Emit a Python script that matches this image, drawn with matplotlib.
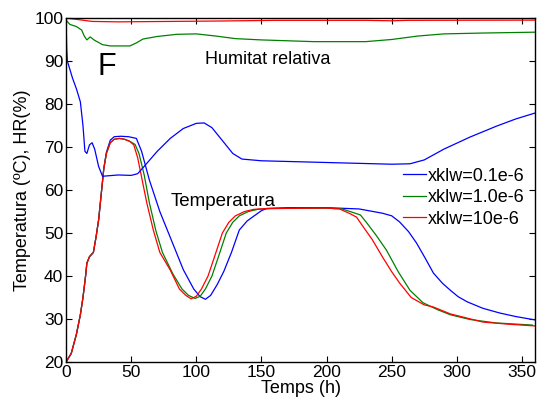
import matplotlib
matplotlib.use("Agg")
import matplotlib.pyplot as plt

# ── DADES (llegides del gràfic) ─────────────────────────────
# Temperatura
t_T_blue = [0, 4, 8, 11, 13, 15, 16, 18, 21, 23, 25, 27, 29, 31, 34, 37, 42, 48, 54,
            58, 64, 72, 80, 90, 98, 103, 107, 111, 116, 121, 127, 133, 139, 144, 150, 154,
            170, 200, 225, 243, 250, 256, 263, 269, 276, 282, 289, 295, 301, 308, 320,
            333, 345, 360]
T_blue = [20, 22, 26.5, 31, 35, 40, 43, 44.5, 45.5, 49, 53, 59, 65, 68.8, 71.6, 72.4,
          72.5, 72.4, 72, 69, 62.3, 55, 49, 41.5, 37, 35.2, 34.6, 35.5, 38, 41, 45.5,
          50.7, 52.8, 53.9, 55.2, 55.7, 55.9, 55.9, 55.6, 54.6, 54, 52.6, 50.3, 47.7,
          44, 40.7, 38.3, 36.7, 35.2, 34, 32.5, 31.4, 30.6, 29.8]

t_T_green = [0, 4, 8, 11, 13, 15, 16, 18, 21, 23, 25, 27, 29, 31, 34, 37, 41, 45, 49,
             53, 56, 60, 64, 69, 74, 82, 89, 94, 99, 103, 107, 112, 117, 123, 128, 133,
             140, 147, 157, 200, 212, 220, 226, 231, 238, 246, 255, 264, 274, 285, 295,
             310, 330, 358]
T_green = [20, 22, 26.5, 31, 35, 40, 43, 44.5, 45.5, 49, 53, 59, 65, 68.5, 71, 71.8,
           72, 71.8, 71.3, 70.6, 68.5, 63.5, 57, 50.5, 45.5, 40.5, 37, 35.5, 34.8,
           35.3, 37, 40, 44.5, 50, 52.5, 54, 55, 55.5, 55.7, 55.8, 55.6, 54.8, 54.2,
           52.3, 49.5, 46, 41, 36.7, 33.8, 32.2, 31, 29.9, 29.1, 28.6]

t_T_red = [0, 4, 8, 11, 13, 15, 16, 18, 21, 23, 25, 27, 29, 31, 34, 37, 41, 45, 49,
           52, 55, 58, 62, 67, 72, 80, 87, 92, 96, 100, 104, 109, 114, 120, 125, 130,
           137, 144, 154, 200, 210, 218, 223, 228, 235, 243, 250, 256, 265, 275, 282,
           295, 320, 340, 360]
T_red = [20, 22, 26.5, 31, 35, 40, 43, 44.5, 45.5, 49, 53, 59, 65, 68.5, 71, 71.8, 72,
         71.8, 71.3, 70.5, 67.5, 63, 57, 50.7, 45.5, 41.4, 37, 35.5, 34.7, 35.3, 37,
         40, 44.5, 50, 52.5, 54, 55, 55.5, 55.7, 55.8, 55.6, 54.5, 53.7, 51.5, 48.5,
         44.4, 41, 38.4, 35, 33.3, 32.8, 31.2, 29.3, 28.8, 28.4]

# Humitat relativa
t_HR_blue = [0, 0.5, 1, 3, 5, 8, 11, 13, 14.5, 16, 18, 20, 22, 25, 28, 32, 40, 50, 55,
             60, 70, 80, 90, 100, 106, 112, 120, 128, 135, 150, 200, 250, 264, 275, 290,
             310, 330, 345, 360]
HR_blue = [100, 93, 90, 88, 86, 83.5, 80.5, 75, 69, 68.5, 70.5, 71, 69.5, 65.5, 63.2,
           63.3, 63.5, 63.4, 63.8, 65.5, 69, 72, 74.3, 75.5, 75.6, 74.5, 71.5, 68.5,
           67.2, 66.8, 66.4, 66, 66.1, 67, 69.5, 72.3, 74.8, 76.5, 77.9]

t_HR_green = [0, 3, 8, 12, 14, 16, 18.5, 22, 28, 34, 49, 54, 59, 70, 85, 100, 115, 130,
              150, 190, 230, 250, 270, 290, 320, 360]
HR_green = [99.5, 98.5, 98, 97.2, 95.8, 94.9, 95.6, 94.8, 93.8, 93.5, 93.5, 94.2, 95.1,
            95.7, 96.2, 96.3, 95.8, 95.2, 94.9, 94.5, 94.5, 95, 95.8, 96.3, 96.5, 96.7]

t_HR_red = [0, 10, 20, 40, 80, 120, 160, 230, 250, 262, 360]
HR_red = [100, 99.6, 99.2, 99.1, 99.2, 99.3, 99.45, 99.45, 99.35, 99.45, 99.5]

labels = ["xklw=0.1e-6", "xklw=1.0e-6", "xklw=10e-6"]
colors = ["#0000ff", "#008000", "#ff0000"]
# ────────────────────────────────────────────────────────────

plt.rcParams["font.family"] = ["Liberation Sans", "DejaVu Sans"]
plt.rcParams["font.size"] = 13

fig = plt.figure(figsize=(5.39, 4.05), dpi=100)
ax = fig.add_axes([0.1225, 0.106, 0.8701, 0.8496])

lw = 0.9
h1, = ax.plot(t_T_blue, T_blue, color=colors[0], lw=lw)
h2, = ax.plot(t_T_green, T_green, color=colors[1], lw=lw)
h3, = ax.plot(t_T_red, T_red, color=colors[2], lw=lw)
ax.plot(t_HR_blue, HR_blue, color=colors[0], lw=lw)
ax.plot(t_HR_green, HR_green, color=colors[1], lw=lw)
ax.plot(t_HR_red, HR_red, color=colors[2], lw=lw)

ax.set_xlim(0, 360)
ax.set_ylim(20, 100)
ax.set_xticks(range(0, 351, 50))
ax.set_yticks(range(20, 101, 10))
ax.tick_params(direction="in", top=True, right=True, length=4, width=0.8,
               labelsize=12.5, pad=2)
for s in ax.spines.values():
    s.set_linewidth(1.0)

ax.set_xlabel("Temps (h)", fontsize=13, labelpad=0)
ax.set_ylabel("Temperatura (ºC), HR(%)", fontsize=13, labelpad=2)

ax.text(24, 88.5, "F", fontsize=22, va="center", ha="left")
ax.text(107, 90.3, "Humitat relativa", fontsize=13, va="center")
ax.text(80, 57.3, "Temperatura", fontsize=13.5, va="center")

ax.legend([h1, h2, h3], labels, loc="upper left", bbox_to_anchor=(0.718, 0.565),
          frameon=False, handlelength=1.3, handletextpad=0.1, borderpad=0,
          borderaxespad=0, labelspacing=0.25, fontsize=13)

fig.savefig("out.png", dpi=100)
